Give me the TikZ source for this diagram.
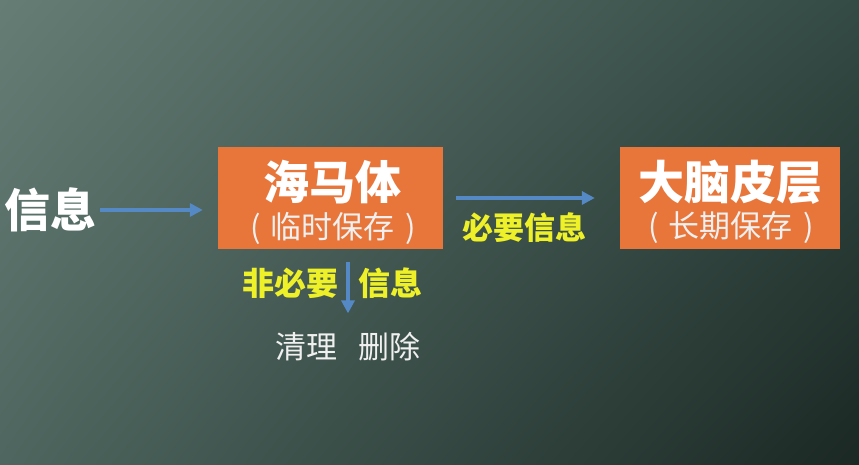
\documentclass[tikz,border=0pt]{standalone}
\usepackage{fontspec}
\setmainfont{Noto Sans CJK SC}
\usetikzlibrary{arrows.meta,shadings}

\definecolor{bgul}{RGB}{102,125,118}
\definecolor{bgur}{RGB}{52,74,68}
\definecolor{bgll}{RGB}{78,102,95}
\definecolor{bglr}{RGB}{27,40,36}
\definecolor{boxorange}{RGB}{232,118,58}
\definecolor{arrowblue}{RGB}{84,137,198}
\definecolor{labelyellow}{RGB}{238,240,40}

\tikzset{
    box/.style={fill=boxorange, inner sep=0pt},
    title/.style={text=white, inner sep=0pt, font=\bfseries\fontsize{46pt}{50pt}\selectfont},
    note/.style={text=white!94!black, inner sep=0pt, font=\fontsize{31pt}{34pt}\selectfont},
    tag/.style={text=labelyellow, inner sep=0pt, font=\bfseries\fontsize{31pt}{34pt}\selectfont},
    flow/.style={draw=arrowblue, line width=4pt, -{Triangle[length=13pt,width=13pt]}},
}

\begin{document}
\begin{tikzpicture}[x=1pt,y=1pt]
    % background
    \useasboundingbox (0,0) rectangle (859,465);
    \shade[upper left=bgul, upper right=bgur, lower left=bgll, lower right=bglr] (0,0) rectangle (859,465);

    % boxes
    \node[box, minimum width=225pt, minimum height=102pt] (hippo) at (330.5,267) {};
    \node[box, minimum width=220pt, minimum height=102pt] (cortex) at (730,267) {};
    \node[title] (hippot) at (332,283) {海马体};
    \node[note] (hippos) at (333,237) {(\hspace{0.3em}临时保存\hspace{0.35em})};
    \node[title] (cortext) at (730,283) {大脑皮层};
    \node[note] (cortexs) at (731,237) {(\hspace{0.3em}长期保存\hspace{0.35em})};

    % texts
    \node[title] (info) at (51,255) {信息};
    \node[tag] (need) at (524,237) {必要信息};
    \node[tag, font=\bfseries\fontsize{32pt}{34pt}\selectfont] (noneed) at (290,182) {非必要};
    \node[tag, font=\bfseries\fontsize{32pt}{34pt}\selectfont] (noinfo) at (390,182) {信息};
    \node[note] (clean) at (348,118) {清理\hspace{0.68em}删除};

    % arrows
    \draw[flow, shorten <=3pt, shorten >=15pt] (info.east) -- (info.east -| hippo.west);
    \draw[flow, shorten <=13pt, shorten >=25pt] (hippo.east) -- (cortex.west);
    \draw[flow, shorten <=13pt, shorten >=19pt] (hippo.south -| clean) -- (clean.north);
\end{tikzpicture}
\end{document}
